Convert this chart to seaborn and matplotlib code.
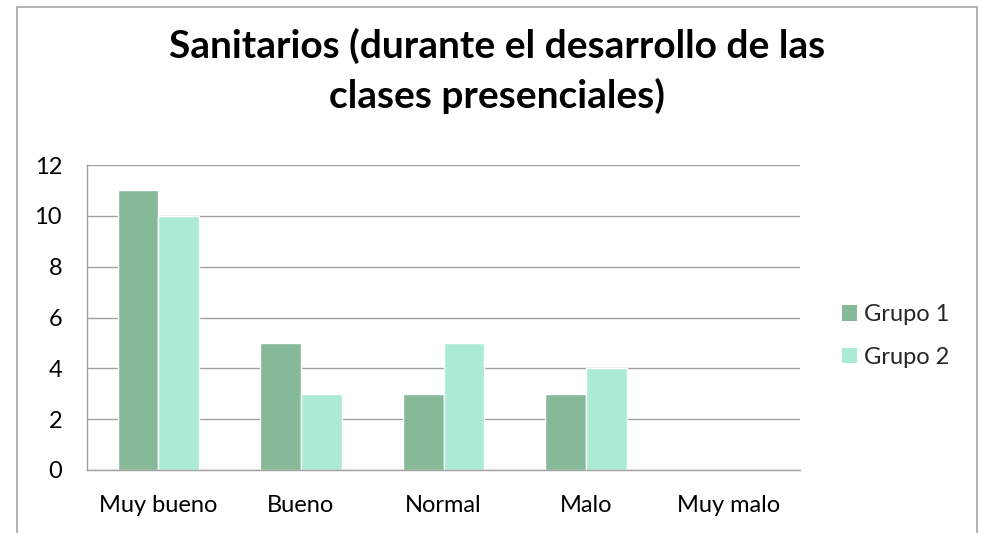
import matplotlib
matplotlib.use("Agg")
import matplotlib.pyplot as plt
import seaborn as sns
import pandas as pd
from matplotlib.patches import Rectangle, Patch

categories = ["Muy bueno", "Bueno", "Normal", "Malo", "Muy malo"]
grupo1 = [11, 5, 3, 3, 0]
grupo2 = [10, 3, 5, 4, 0]
series_names = ["Grupo 1", "Grupo 2"]
colors = ["#86B998", "#ABEBD4"]
yticks = [0, 2, 4, 6, 8, 10, 12]
title = "Sanitarios (durante el desarrollo de las\nclases presenciales)"

df = pd.DataFrame({
    "cat": categories * 2,
    "val": grupo1 + grupo2,
    "grp": [series_names[0]] * len(categories) + [series_names[1]] * len(categories),
})

sns.set_theme(style="white")
plt.rcParams["font.family"] = ["Lato", "DejaVu Sans"]

fig = plt.figure(figsize=(9.86, 5.33), dpi=100)
ax = fig.add_axes([87/986, 1-470/533, (800-87)/986, (470-165)/533])

sns.barplot(data=df, x="cat", y="val", hue="grp", order=categories,
            hue_order=series_names, palette=colors, width=0.57,
            saturation=1, ax=ax, legend=False, errorbar=None)

ax.set_ylim(0, 12)
ax.set_xlim(-0.5, 4.5)
ax.set_yticks(yticks)
ax.set_yticklabels([str(t) for t in yticks])
ax.yaxis.grid(True, color="#A0A0A0", linewidth=1)
ax.set_axisbelow(True)
ax.set_xlabel("")
ax.set_ylabel("")
for s in ["top", "right"]:
    ax.spines[s].set_visible(False)
for s in ["left", "bottom"]:
    ax.spines[s].set_color("#A0A0A0")
    ax.spines[s].set_linewidth(1)
ax.tick_params(axis="y", length=0, pad=18, labelsize=17, labelcolor="black")
ax.tick_params(axis="x", length=0, pad=18, labelsize=17, labelcolor="black")

fig.text(497/986, 1-71/533, title, ha="center", va="center",
         fontsize=28, fontweight="bold", linespacing=1.48, color="black")

handles = [Patch(facecolor=c, edgecolor="none") for c in colors]
fig.legend(handles, series_names, loc="center left",
           bbox_to_anchor=(842/986, 1-336/533), frameon=False,
           fontsize=17, handlelength=0.64, handleheight=0.64,
           handletextpad=0.3, labelspacing=0.9, borderpad=0,
           borderaxespad=0)

border = Rectangle((17/986, -0.1), (977-17)/986, 1.1 - 7/533,
                   transform=fig.transFigure, fill=False,
                   edgecolor="#A6A6A6", linewidth=1.2, clip_on=False)
fig.patches.append(border)

fig.savefig("out.png", dpi=100)
